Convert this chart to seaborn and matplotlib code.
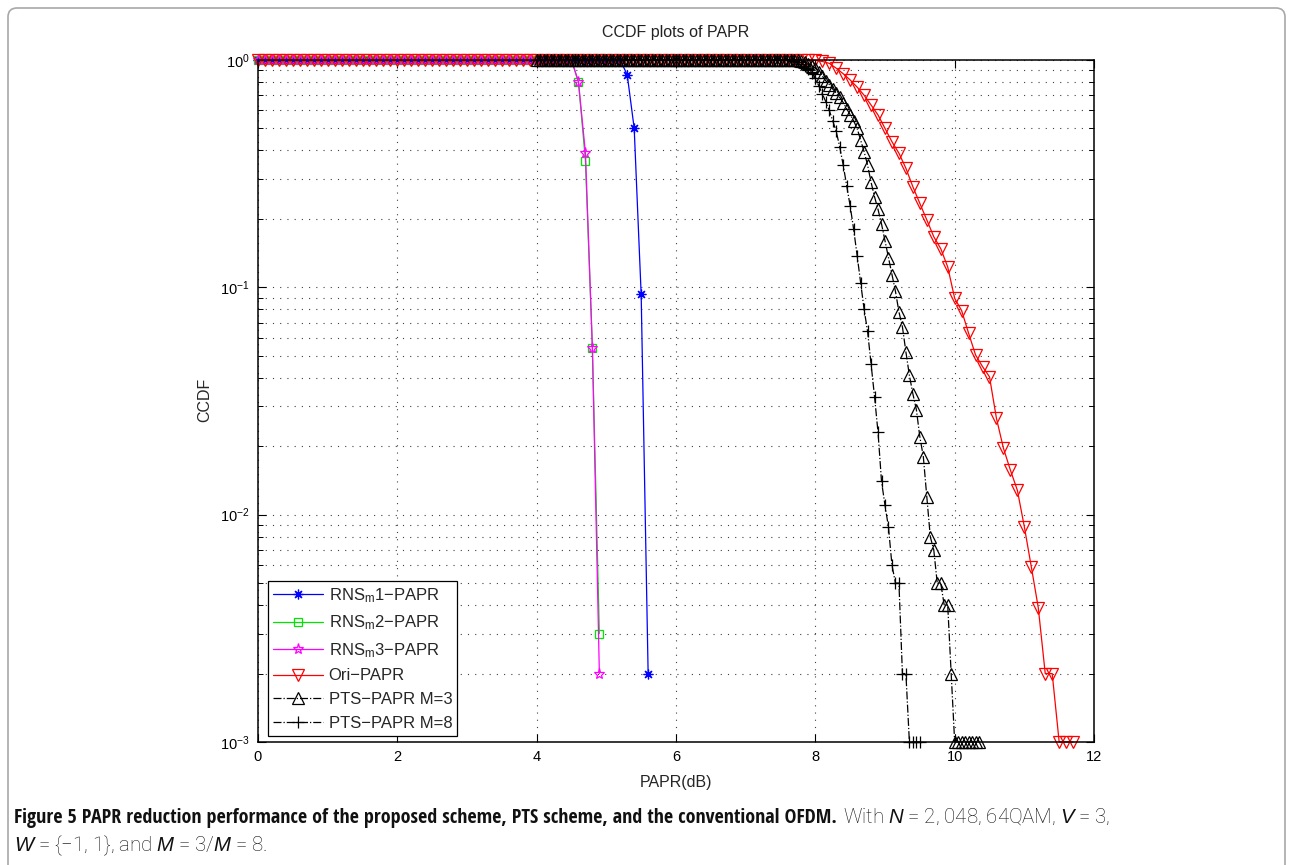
import numpy as np
import pandas as pd
import matplotlib
matplotlib.use("Agg")
import matplotlib.pyplot as plt
import seaborn as sns
from matplotlib import font_manager
from matplotlib.patches import FancyBboxPatch
from matplotlib.transforms import IdentityTransform
from matplotlib.ticker import LogLocator, NullFormatter, FixedLocator

# ---------------- data ----------------
RNS1_x = [0.0, 0.1, 0.2, 0.3, 0.4, 0.5, 0.6, 0.7, 0.8, 0.9, 1.0, 1.1, 1.2, 1.3, 1.4, 1.5, 1.6, 1.7, 1.8, 1.9,
          2.0, 2.1, 2.2, 2.3, 2.4, 2.5, 2.6, 2.7, 2.8, 2.9, 3.0, 3.1, 3.2, 3.3, 3.4, 3.5, 3.6, 3.7, 3.8, 3.9,
          4.0, 4.1, 4.2, 4.3, 4.4, 4.5, 4.6, 4.7, 4.8, 4.9, 5.0, 5.1, 5.2, 5.3, 5.4, 5.5, 5.6]
RNS1_y = [1.0, 1.0, 1.0, 1.0, 1.0, 1.0, 1.0, 1.0, 1.0, 1.0, 1.0, 1.0, 1.0, 1.0, 1.0, 1.0, 1.0, 1.0, 1.0, 1.0,
          1.0, 1.0, 1.0, 1.0, 1.0, 1.0, 1.0, 1.0, 1.0, 1.0, 1.0, 1.0, 1.0, 1.0, 1.0, 1.0, 1.0, 1.0, 1.0, 1.0,
          1.0, 1.0, 1.0, 1.0, 1.0, 1.0, 1.0, 1.0, 1.0, 1.0, 1.0, 1.0, 1.0, 0.86, 0.50, 0.093, 0.002]

RNS23_x = [0.0, 0.1, 0.2, 0.3, 0.4, 0.5, 0.6, 0.7, 0.8, 0.9, 1.0, 1.1, 1.2, 1.3, 1.4, 1.5, 1.6, 1.7, 1.8, 1.9,
           2.0, 2.1, 2.2, 2.3, 2.4, 2.5, 2.6, 2.7, 2.8, 2.9, 3.0, 3.1, 3.2, 3.3, 3.4, 3.5, 3.6, 3.7, 3.8, 3.9,
           4.0, 4.1, 4.2, 4.3, 4.4, 4.5, 4.6, 4.7, 4.8, 4.9]
RNS2_y = [1.0, 1.0, 1.0, 1.0, 1.0, 1.0, 1.0, 1.0, 1.0, 1.0, 1.0, 1.0, 1.0, 1.0, 1.0, 1.0, 1.0, 1.0, 1.0, 1.0,
          1.0, 1.0, 1.0, 1.0, 1.0, 1.0, 1.0, 1.0, 1.0, 1.0, 1.0, 1.0, 1.0, 1.0, 1.0, 1.0, 1.0, 1.0, 1.0, 1.0,
          1.0, 1.0, 1.0, 1.0, 1.0, 1.0, 0.80, 0.36, 0.054, 0.003]
RNS3_y = [1.0, 1.0, 1.0, 1.0, 1.0, 1.0, 1.0, 1.0, 1.0, 1.0, 1.0, 1.0, 1.0, 1.0, 1.0, 1.0, 1.0, 1.0, 1.0, 1.0,
          1.0, 1.0, 1.0, 1.0, 1.0, 1.0, 1.0, 1.0, 1.0, 1.0, 1.0, 1.0, 1.0, 1.0, 1.0, 1.0, 1.0, 1.0, 1.0, 1.0,
          1.0, 1.0, 1.0, 1.0, 1.0, 1.0, 0.80, 0.39, 0.054, 0.002]

ORI_x = [0.0, 0.1, 0.2, 0.3, 0.4, 0.5, 0.6, 0.7, 0.8, 0.9, 1.0, 1.1, 1.2, 1.3, 1.4, 1.5, 1.6, 1.7, 1.8, 1.9,
         2.0, 2.1, 2.2, 2.3, 2.4, 2.5, 2.6, 2.7, 2.8, 2.9, 3.0, 3.1, 3.2, 3.3, 3.4, 3.5, 3.6, 3.7, 3.8, 3.9,
         4.0, 4.1, 4.2, 4.3, 4.4, 4.5, 4.6, 4.7, 4.8, 4.9, 5.0, 5.1, 5.2, 5.3, 5.4, 5.5, 5.6, 5.7, 5.8, 5.9,
         6.0, 6.1, 6.2, 6.3, 6.4, 6.5, 6.6, 6.7, 6.8, 6.9, 7.0, 7.1, 7.2, 7.3, 7.4, 7.5, 7.6, 7.7, 7.8, 7.9,
         8.0, 8.1, 8.2, 8.3, 8.4, 8.5, 8.6, 8.7, 8.8, 8.9, 9.0, 9.1, 9.2, 9.3, 9.4, 9.5, 9.6, 9.7, 9.8, 9.9,
         10.0, 10.1, 10.2, 10.3, 10.4, 10.5, 10.6, 10.7, 10.8, 10.9, 11.0, 11.1, 11.2, 11.3, 11.4, 11.5, 11.6, 11.7]
ORI_y = [1.0, 1.0, 1.0, 1.0, 1.0, 1.0, 1.0, 1.0, 1.0, 1.0, 1.0, 1.0, 1.0, 1.0, 1.0, 1.0, 1.0, 1.0, 1.0, 1.0,
         1.0, 1.0, 1.0, 1.0, 1.0, 1.0, 1.0, 1.0, 1.0, 1.0, 1.0, 1.0, 1.0, 1.0, 1.0, 1.0, 1.0, 1.0, 1.0, 1.0,
         1.0, 1.0, 1.0, 1.0, 1.0, 1.0, 1.0, 1.0, 1.0, 1.0, 1.0, 1.0, 1.0, 1.0, 1.0, 1.0, 1.0, 1.0, 1.0, 1.0,
         1.0, 1.0, 1.0, 1.0, 1.0, 1.0, 1.0, 1.0, 1.0, 1.0, 1.0, 1.0, 1.0, 1.0, 1.0, 1.0, 1.0, 1.0, 1.0, 0.999,
         0.995, 0.985, 0.967, 0.92, 0.87, 0.817, 0.76, 0.70, 0.634, 0.573, 0.50, 0.437, 0.389, 0.334, 0.277,
         0.234, 0.198, 0.167, 0.148, 0.123,
         0.0895, 0.079, 0.0628, 0.0504, 0.0448, 0.0404, 0.0265, 0.0196, 0.0157, 0.0128, 0.00885, 0.0059,
         0.0039, 0.002, 0.002, 0.001, 0.001, 0.001]

PTS3_x = [4.00, 4.05, 4.10, 4.15, 4.20, 4.25, 4.30, 4.35, 4.40, 4.45, 4.50, 4.55, 4.60, 4.65, 4.70, 4.75, 4.80, 4.85, 4.90, 4.95,
          5.00, 5.05, 5.10, 5.15, 5.20, 5.25, 5.30, 5.35, 5.40, 5.45, 5.50, 5.55, 5.60, 5.65, 5.70, 5.75, 5.80, 5.85, 5.90, 5.95,
          6.00, 6.05, 6.10, 6.15, 6.20, 6.25, 6.30, 6.35, 6.40, 6.45, 6.50, 6.55, 6.60, 6.65, 6.70, 6.75, 6.80, 6.85, 6.90, 6.95,
          7.00, 7.05, 7.10, 7.15, 7.20, 7.25, 7.30, 7.35, 7.40, 7.45, 7.50, 7.55, 7.60, 7.65, 7.70, 7.75, 7.80, 7.85, 7.90, 7.95,
          8.00, 8.05, 8.10, 8.15, 8.20, 8.25, 8.30, 8.35, 8.40, 8.45, 8.50, 8.55, 8.60, 8.65, 8.70, 8.75, 8.80, 8.85, 8.90, 8.95,
          9.00, 9.05, 9.10, 9.15, 9.20, 9.25, 9.30, 9.35, 9.40, 9.45, 9.50, 9.55, 9.60, 9.65, 9.70, 9.75, 9.80, 9.85, 9.90, 9.95,
          10.00, 10.05, 10.10, 10.15, 10.20, 10.25, 10.30, 10.35]
PTS3_y = [1.0, 1.0, 1.0, 1.0, 1.0, 1.0, 1.0, 1.0, 1.0, 1.0, 1.0, 1.0, 1.0, 1.0, 1.0, 1.0, 1.0, 1.0, 1.0, 1.0,
          1.0, 1.0, 1.0, 1.0, 1.0, 1.0, 1.0, 1.0, 1.0, 1.0, 1.0, 1.0, 1.0, 1.0, 1.0, 1.0, 1.0, 1.0, 1.0, 1.0,
          1.0, 1.0, 1.0, 1.0, 1.0, 1.0, 1.0, 1.0, 1.0, 1.0, 1.0, 1.0, 1.0, 1.0, 1.0, 1.0, 1.0, 1.0, 1.0, 1.0,
          1.0, 1.0, 1.0, 1.0, 1.0, 1.0, 1.0, 1.0, 1.0, 1.0, 1.0, 1.0, 1.0, 1.0, 1.0, 1.0, 0.99, 0.98, 0.965, 0.945,
          0.92, 0.89, 0.85, 0.81, 0.78, 0.745, 0.715, 0.685, 0.65, 0.61, 0.575, 0.54, 0.50, 0.445, 0.395, 0.345,
          0.29, 0.25, 0.22, 0.19,
          0.16, 0.135, 0.113, 0.096, 0.078, 0.067, 0.052, 0.041, 0.034, 0.029, 0.022, 0.018, 0.012, 0.008,
          0.007, 0.005, 0.005, 0.004, 0.004, 0.002,
          0.001, 0.001, 0.001, 0.001, 0.001, 0.001, 0.001, 0.001]

PTS8_x = [4.00, 4.05, 4.10, 4.15, 4.20, 4.25, 4.30, 4.35, 4.40, 4.45, 4.50, 4.55, 4.60, 4.65, 4.70, 4.75, 4.80, 4.85, 4.90, 4.95,
          5.00, 5.05, 5.10, 5.15, 5.20, 5.25, 5.30, 5.35, 5.40, 5.45, 5.50, 5.55, 5.60, 5.65, 5.70, 5.75, 5.80, 5.85, 5.90, 5.95,
          6.00, 6.05, 6.10, 6.15, 6.20, 6.25, 6.30, 6.35, 6.40, 6.45, 6.50, 6.55, 6.60, 6.65, 6.70, 6.75, 6.80, 6.85, 6.90, 6.95,
          7.00, 7.05, 7.10, 7.15, 7.20, 7.25, 7.30, 7.35, 7.40, 7.45, 7.50, 7.55, 7.60, 7.65, 7.70, 7.75, 7.80, 7.85, 7.90, 7.95,
          8.00, 8.05, 8.10, 8.15, 8.20, 8.25, 8.30, 8.35, 8.40, 8.45, 8.50, 8.55, 8.60, 8.65, 8.70, 8.75, 8.80, 8.85, 8.90, 8.95,
          9.00, 9.05, 9.10, 9.15, 9.20, 9.25, 9.30, 9.35, 9.40, 9.45, 9.50]
PTS8_y = [1.0, 1.0, 1.0, 1.0, 1.0, 1.0, 1.0, 1.0, 1.0, 1.0, 1.0, 1.0, 1.0, 1.0, 1.0, 1.0, 1.0, 1.0, 1.0, 1.0,
          1.0, 1.0, 1.0, 1.0, 1.0, 1.0, 1.0, 1.0, 1.0, 1.0, 1.0, 1.0, 1.0, 1.0, 1.0, 1.0, 1.0, 1.0, 1.0, 1.0,
          1.0, 1.0, 1.0, 1.0, 1.0, 1.0, 1.0, 1.0, 1.0, 1.0, 1.0, 1.0, 1.0, 1.0, 1.0, 1.0, 1.0, 1.0, 1.0, 1.0,
          1.0, 1.0, 1.0, 1.0, 1.0, 1.0, 1.0, 1.0, 1.0, 1.0, 1.0, 1.0, 0.998, 0.995, 0.99, 0.98, 0.965, 0.945, 0.915, 0.875,
          0.83, 0.77, 0.71, 0.656, 0.60, 0.54, 0.485, 0.415, 0.345, 0.28, 0.228, 0.18, 0.138, 0.105, 0.080, 0.064,
          0.046, 0.033, 0.023, 0.014,
          0.011, 0.0088, 0.006, 0.005, 0.005, 0.002, 0.002, 0.001, 0.001, 0.001, 0.001]

LABELS = ["RNS$_{\\mathregular{m}}$1\u2212PAPR", "RNS$_{\\mathregular{m}}$2\u2212PAPR",
          "RNS$_{\\mathregular{m}}$3\u2212PAPR", "Ori\u2212PAPR",
          "PTS\u2212PAPR M=3", "PTS\u2212PAPR M=8"]
X_TICKS = [0, 2, 4, 6, 8, 10, 12]

TITLE = "CCDF plots of PAPR"
XLABEL = "PAPR(dB)"
YLABEL = "CCDF"
CAP_BOLD = "Figure 5 PAPR reduction performance of the proposed scheme, PTS scheme, and the conventional OFDM."
CAP_NORM1 = "With $N$ = 2, 048, 64QAM, $V$ = 3,"
CAP_LINE2 = "$W$ = {\u22121, 1}, and $M$ = 3/$M$ = 8."

# ---------------- style ----------------
sns.set_theme(style="white")


def has_font(name):
    try:
        font_manager.findfont(font_manager.FontProperties(family=name), fallback_to_default=False)
        return True
    except Exception:
        return False


MAIN = "Liberation Sans" if has_font("Liberation Sans") else "DejaVu Sans"
CAPF = MAIN
for cand in ["Liberation Sans Narrow", "DejaVu Sans Condensed", "Open Sans Condensed"]:
    if has_font(cand):
        CAPF = cand
        break
CAPN = MAIN
for cand in ["Roboto", "Lato", "Open Sans"]:
    if has_font(cand):
        CAPN = cand
        break

plt.rcParams['font.family'] = [MAIN, 'DejaVu Sans']
plt.rcParams['mathtext.fontset'] = 'custom'
plt.rcParams['mathtext.rm'] = MAIN
plt.rcParams['mathtext.it'] = MAIN + ':italic'
plt.rcParams['mathtext.bf'] = MAIN + ':bold'
plt.rcParams['axes.unicode_minus'] = True

W, H = 1292, 865
fig = plt.figure(figsize=(W / 100, H / 100), dpi=100)
fig.patch.set_facecolor("white")

# outer rounded frame
frame = FancyBboxPatch((8, -30), 1277, 865 - 8 + 30, boxstyle="round,pad=0,rounding_size=9",
                       transform=IdentityTransform(), fc="none", ec="#a8a8a8", lw=1.2)
fig.patches.append(frame)

ax = fig.add_axes([258 / W, 1 - 742 / H, (1094 - 258) / W, (742 - 60) / H])
ax.set_facecolor("white")

series = [
    (RNS1_x, RNS1_y, LABELS[0], (0, 0, 1), (8, 2, 0), "-", 7.0),
    (RNS23_x, RNS2_y, LABELS[1], (0, 0.9, 0), "s", "-", 6.0),
    (RNS23_x, RNS3_y, LABELS[2], (1, 0, 1), "*", "-", 8.0),
    (ORI_x, ORI_y, LABELS[3], (1, 0, 0), "v", "-", 8.5),
    (PTS3_x, PTS3_y, LABELS[4], (0, 0, 0), "^", "-.", 8.5),
    (PTS8_x, PTS8_y, LABELS[5], (0, 0, 0), "+", "-.", 8.5),
]

for xs, ys, lab, col, mk, ls, ms in series:
    df = pd.DataFrame({"x": xs, "y": ys})
    sns.lineplot(data=df, x="x", y="y", ax=ax, color=col, marker=mk, markersize=ms,
                 linestyle=ls, linewidth=0.9, markerfacecolor="none", markeredgecolor=col,
                 markeredgewidth=0.9, label=lab, estimator=None, sort=False, clip_on=False)

ax.set_yscale("log")
ax.set_xlim(0, 12)
ax.set_ylim(1e-3, 1)
ax.xaxis.set_major_locator(FixedLocator(X_TICKS))
ax.set_xticklabels([str(t) for t in X_TICKS])
ax.yaxis.set_major_locator(LogLocator(base=10))
ax.yaxis.set_minor_locator(LogLocator(base=10, subs=np.arange(2, 10)))
ax.yaxis.set_minor_formatter(NullFormatter())
ax.set_xlabel("")
ax.set_ylabel("")

grid_kw = dict(linestyle=(0, (1, 5.5)), linewidth=0.8, color="#404040")
ax.grid(True, which="major", axis="both", **grid_kw)
ax.grid(True, which="minor", axis="y", **grid_kw)
ax.set_axisbelow(True)

for sp in ax.spines.values():
    sp.set_color("black")
    sp.set_linewidth(1.1)
    sp.set_visible(True)

ax.tick_params(which="both", direction="in", top=True, right=True, bottom=True, left=True,
               colors="black", labelcolor="black")
ax.tick_params(which="major", length=6, width=0.8, labelsize=10.5, pad=6)
ax.tick_params(which="minor", length=3.5, width=0.7)

leg = ax.legend(loc="lower left", bbox_to_anchor=(0.0116, 0.0092), borderaxespad=0,
                frameon=True, fancybox=False, framealpha=1, edgecolor="black",
                fontsize=12, handlelength=3.0, handletextpad=0.35, labelspacing=0.52,
                borderpad=0.3)
leg.get_frame().set_linewidth(0.9)

fig.text(676 / W, 1 - 33 / H, TITLE, ha="center", va="center", fontsize=11.5, color="#222222")
fig.text(676 / W, 1 - 783 / H, XLABEL, ha="center", va="center", fontsize=11.5)
fig.text(205 / W, 1 - 400 / H, YLABEL, ha="center", va="center", fontsize=11.5, rotation=90)

# caption
renderer = fig.canvas.get_renderer()
cap_kw = dict(va="baseline", ha="left", color="#111111")
t1 = fig.text(14 / W, 1 - 823 / H, CAP_BOLD, fontweight="bold", fontsize=12,
              family=[CAPF, "DejaVu Sans"], **cap_kw)
bb = t1.get_window_extent(renderer)
cap_size = 12 * (832 - 14) / bb.width
t1.set_fontsize(cap_size)
bb = t1.get_window_extent(renderer)
t2 = fig.text((bb.x1 + 6) / W, 1 - 823 / H, CAP_NORM1, fontsize=cap_size * 1.02, fontweight="light",
              family=[CAPN, "DejaVu Sans"], **cap_kw)
t3 = fig.text(14 / W, 1 - 851 / H, CAP_LINE2, fontsize=cap_size * 1.02, fontweight="light",
              family=[CAPN, "DejaVu Sans"], **cap_kw)

fig.savefig("out.png", dpi=100, facecolor="white")
